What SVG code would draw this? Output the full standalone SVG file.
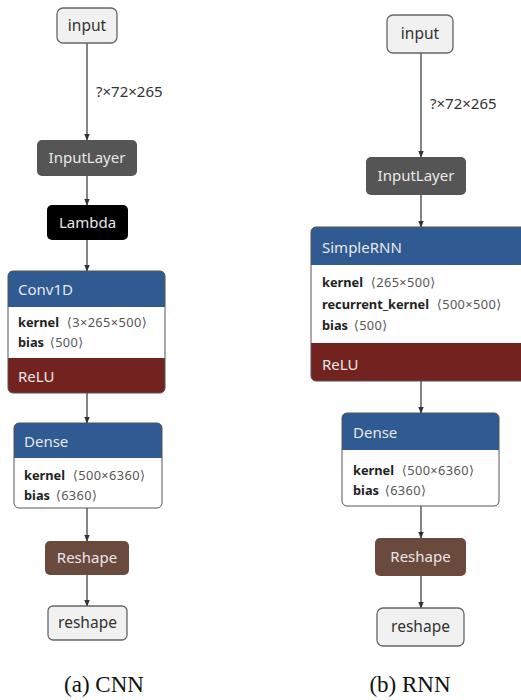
<svg xmlns="http://www.w3.org/2000/svg" width="521" height="700" viewBox="0 0 521 700">
<defs>
<marker id="arr" viewBox="0 0 10 10" refX="9" refY="5" markerWidth="7" markerHeight="7" orient="auto" markerUnits="userSpaceOnUse">
<path d="M0,1 L10,5 L0,9 z" fill="#333"/>
</marker>
<clipPath id="c1"><rect x="8" y="271" width="157" height="122" rx="5"/></clipPath>
<clipPath id="c2"><rect x="14" y="423" width="148" height="85" rx="5"/></clipPath>
<clipPath id="c3"><rect x="311" y="227" width="230" height="154" rx="5"/></clipPath>
<clipPath id="c4"><rect x="342" y="413" width="157" height="93" rx="5"/></clipPath>
</defs>
<style>
text{font-family:"Noto Sans","Open Sans","DejaVu Sans",sans-serif;}
.io rect{fill:#f1f1f1;stroke:#666;stroke-width:1.3;}
.io text{fill:#333;font-size:15.5px;text-anchor:middle;}
.hdr{fill:#e8e8e8;font-size:15px;}
.mid{text-anchor:middle;}
.blue{fill:#2f5a92;}
.red{fill:#73231f;}
.attr{font-size:12.8px;fill:#222;}
.attr tspan.b{font-weight:bold;}
.attr tspan.v{fill:#555;letter-spacing:0.4px;}
.edge line{stroke:#333;stroke-width:1.2;marker-end:url(#arr);}
.lbl{font-size:15px;fill:#333;}
.cap{font-family:"Liberation Serif","Times New Roman",serif;font-size:23px;fill:#111;text-anchor:middle;}
</style>

<g id="connectors" class="edge">
<line x1="87" y1="43" x2="87" y2="140"/>
<line x1="87" y1="176" x2="87" y2="205"/>
<line x1="87" y1="240" x2="87" y2="271"/>
<line x1="87" y1="393" x2="87" y2="423"/>
<line x1="87" y1="508" x2="87" y2="541"/>
<line x1="87" y1="575" x2="87" y2="606"/>
<line x1="421" y1="53" x2="421" y2="157"/>
<line x1="421" y1="195" x2="421" y2="227"/>
<line x1="421" y1="381" x2="421" y2="413"/>
<line x1="421" y1="506" x2="421" y2="538"/>
<line x1="421" y1="576" x2="421" y2="608"/>
</g>
<text class="lbl" x="96" y="97">?×72×265</text>
<text class="lbl" x="430" y="109">?×72×265</text>

<!-- CNN -->
<g id="cnn-input" class="io"><rect x="57" y="8" width="60" height="35" rx="6"/><text x="87" y="31">input</text></g>
<g id="cnn-inputlayer"><rect x="37" y="140" width="100" height="36" rx="5" fill="#555"/><text class="hdr mid" x="87" y="163">InputLayer</text></g>
<g id="cnn-lambda"><rect x="47" y="205" width="81" height="35" rx="5" fill="#000"/><text class="hdr mid" x="87.5" y="228">Lambda</text></g>
<g id="cnn-conv1d">
<g clip-path="url(#c1)">
<rect x="8" y="271" width="157" height="122" fill="#fff"/>
<rect class="blue" x="8" y="271" width="157" height="36"/>
<rect class="red" x="8" y="358" width="157" height="35"/>
</g>
<rect x="8" y="271" width="157" height="122" rx="5" fill="none" stroke="#555" stroke-width="1"/>
<text class="hdr" x="18" y="295">Conv1D</text>
<text class="attr" x="18" y="327"><tspan class="b">kernel</tspan><tspan class="v" dx="4"> ⟨3×265×500⟩</tspan></text>
<text class="attr" x="18" y="347"><tspan class="b">bias</tspan><tspan class="v" dx="2"> ⟨500⟩</tspan></text>
<text class="hdr" x="18" y="382">ReLU</text>
</g>
<g id="cnn-dense">
<g clip-path="url(#c2)">
<rect x="14" y="423" width="148" height="85" fill="#fff"/>
<rect class="blue" x="14" y="423" width="148" height="35"/>
</g>
<rect x="14" y="423" width="148" height="85" rx="5" fill="none" stroke="#555" stroke-width="1"/>
<text class="hdr" x="24" y="447">Dense</text>
<text class="attr" x="24" y="480"><tspan class="b">kernel</tspan><tspan class="v" dx="4"> ⟨500×6360⟩</tspan></text>
<text class="attr" x="24" y="500"><tspan class="b">bias</tspan><tspan class="v" dx="2"> ⟨6360⟩</tspan></text>
</g>
<g id="cnn-reshape"><rect x="45" y="541" width="84" height="34" rx="5" fill="#6b4a3e"/><text class="hdr mid" x="87" y="563">Reshape</text></g>
<g id="cnn-output" class="io"><rect x="48" y="606" width="79" height="34" rx="5"/><text x="87.5" y="628">reshape</text></g>
<text class="cap" x="104" y="692">(a) CNN</text>

<!-- RNN -->
<g id="rnn-input" class="io"><rect x="387" y="15" width="66" height="38" rx="6"/><text x="420" y="39">input</text></g>
<g id="rnn-inputlayer"><rect x="366" y="157" width="100" height="38" rx="5" fill="#555"/><text class="hdr mid" x="416" y="181">InputLayer</text></g>
<g id="rnn-simplernn">
<g clip-path="url(#c3)">
<rect x="311" y="227" width="230" height="154" fill="#fff"/>
<rect class="blue" x="311" y="227" width="230" height="38"/>
<rect class="red" x="311" y="343" width="230" height="38"/>
</g>
<rect x="311" y="227" width="230" height="154" rx="5" fill="none" stroke="#555" stroke-width="1"/>
<text class="hdr" x="322" y="253">SimpleRNN</text>
<text class="attr" x="322" y="287"><tspan class="b">kernel</tspan><tspan class="v" dx="4"> ⟨265×500⟩</tspan></text>
<text class="attr" x="322" y="309"><tspan class="b">recurrent_kernel</tspan><tspan class="v" dx="4"> ⟨500×500⟩</tspan></text>
<text class="attr" x="322" y="330"><tspan class="b">bias</tspan><tspan class="v" dx="2"> ⟨500⟩</tspan></text>
<text class="hdr" x="322" y="370">ReLU</text>
</g>
<g id="rnn-dense">
<g clip-path="url(#c4)">
<rect x="342" y="413" width="157" height="93" fill="#fff"/>
<rect class="blue" x="342" y="413" width="157" height="37"/>
</g>
<rect x="342" y="413" width="157" height="93" rx="5" fill="none" stroke="#555" stroke-width="1"/>
<text class="hdr" x="353" y="438">Dense</text>
<text class="attr" x="353" y="475"><tspan class="b">kernel</tspan><tspan class="v" dx="4"> ⟨500×6360⟩</tspan></text>
<text class="attr" x="353" y="495"><tspan class="b">bias</tspan><tspan class="v" dx="2"> ⟨6360⟩</tspan></text>
</g>
<g id="rnn-reshape"><rect x="375" y="538" width="91" height="38" rx="5" fill="#6b4a3e"/><text class="hdr mid" x="420.5" y="562">Reshape</text></g>
<g id="rnn-output" class="io"><rect x="377" y="608" width="87" height="38" rx="6"/><text x="420.5" y="632">reshape</text></g>
<text class="cap" x="410" y="692">(b) RNN</text>
</svg>
